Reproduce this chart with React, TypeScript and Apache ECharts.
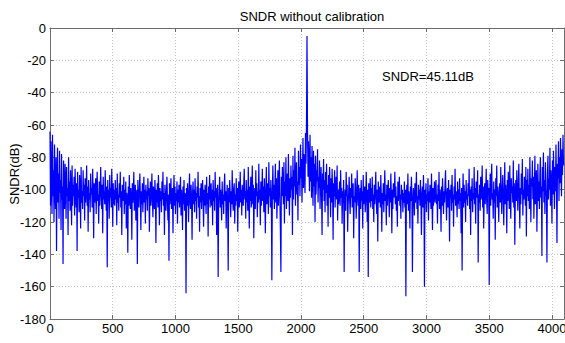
import React, { useEffect, useRef } from "react";
import * as echarts from "echarts";

const BIN_STEP = 4;
const s00 = [
  -64, -110, -70, -98, -115, -66, -104, -88, -120, -72, -100, -112, -80, -138, -95, -74,
  -108, -90, -118, -76, -102, -94, -125, -78, -106, -98, -146, -82, -100, -112, -84, -96,
  -118, -86, -104, -99, -128, -80, -107, -95, -113, -88, -101, -122, -85, -110, -97, -104,
  -92, -116, -87, -103, -111, -96, -138, -89, -105, -100, -114, -91, -99, -124, -86, -108,
];
const s01 = [
  -101, -112, -88, -104, -97, -119, -93, -108, -100, -85, -110, -98, -126, -94, -106, -102,
  -114, -90, -103, -99, -111, -87, -105, -130, -96, -108, -101, -93, -115, -99, -89, -107,
  -103, -121, -95, -110, -100, -86, -104, -112, -97, -127, -92, -106, -101, -109, -88, -103,
  -113, -98, -148, -94, -107, -100, -118, -91, -105, -99, -111, -87, -102, -123, -96, -109,
];
const s02 = [
  -100, -110, -94, -106, -99, -122, -90, -108, -103, -113, -96, -105, -89, -111, -101, -128,
  -97, -107, -104, -92, -115, -100, -109, -95, -124, -102, -106, -139, -98, -110, -91, -104,
  -112, -99, -106, -131, -96, -108, -101, -89, -113, -103, -97, -119, -105, -100, -146, -94,
  -107, -111, -99, -90, -105, -125, -101, -109, -96, -114, -103, -92, -108, -100, -121, -97,
];
const s03 = [
  -106, -101, -113, -93, -104, -99, -126, -108, -95, -110, -102, -90, -107, -117, -98, -105,
  -112, -94, -103, -133, -100, -108, -96, -111, -91, -104, -122, -99, -107, -101, -114, -95,
  -106, -89, -110, -102, -128, -97, -105, -113, -100, -92, -108, -119, -103, -144, -96, -109,
  -101, -93, -112, -106, -99, -127, -104, -91, -110, -98, -115, -102, -107, -95, -121, -100,
];
const s04 = [
  -108, -97, -111, -103, -92, -116, -100, -106, -125, -98, -109, -94, -113, -102, -104, -164,
  -99, -110, -96, -105, -120, -101, -90, -108, -112, -97, -106, -131, -103, -95, -109, -100,
  -114, -93, -107, -102, -118, -98, -105, -89, -111, -104, -126, -99, -108, -96, -112, -101,
  -94, -107, -123, -100, -110, -97, -104, -115, -92, -109, -102, -129, -98, -106, -91, -111,
];
const s05 = [
  -103, -96, -110, -100, -122, -94, -107, -101, -113, -89, -105, -99, -128, -104, -97, -154,
  -108, -102, -92, -111, -100, -106, -119, -95, -109, -103, -115, -98, -90, -107, -101, -124,
  -105, -97, -112, -150, -99, -108, -94, -104, -117, -101, -109, -88, -106, -113, -100, -96,
  -121, -103, -110, -93, -107, -99, -126, -102, -95, -111, -104, -89, -108, -100, -116, -97,
];
const s06 = [
  -104, -110, -96, -87, -106, -101, -118, -94, -108, -100, -113, -86, -103, -124, -98, -107,
  -92, -111, -102, -85, -109, -97, -130, -105, -99, -112, -88, -104, -96, -117, -101, -108,
  -84, -106, -100, -122, -95, -110, -103, -87, -107, -98, -114, -93, -105, -127, -100, -86,
  -109, -102, -96, -115, -83, -104, -99, -111, -94, -107, -156, -101, -85, -106, -97, -112,
];
const s07 = [
  -100, -84, -108, -93, -118, -103, -88, -110, -97, -82, -106, -125, -151, -92, -104, -86,
  -99, -109, -83, -121, -95, -104, -80, -112, -96, -90, -107, -78, -101, -116, -93, -105,
  -85, -100, -92, -128, -79, -106, -88, -98, -74, -110, -91, -83, -103, -95, -119, -76,
  -97, -86, -104, -72, -93, -81, -108, -90, -68, -99, -78, -87, -102, -65, -84, -58,
];
const s08 = [
  -5, -62, -92, -70, -86, -101, -66, -95, -80, -105, -73, -90, -110, -76, -98, -84,
  -120, -79, -103, -88, -95, -75, -108, -92, -99, -82, -112, -96, -86, -104, -128, -90,
  -100, -81, -107, -94, -114, -89, -102, -84, -110, -97, -123, -91, -105, -86, -99, -117,
  -93, -108, -87, -101, -131, -96, -104, -88, -111, -98, -92, -106, -85, -119, -100, -109,
];
const s09 = [
  -103, -95, -110, -88, -105, -99, -121, -101, -108, -94, -151, -106, -100, -113, -89, -104,
  -97, -126, -109, -102, -92, -107, -115, -99, -105, -90, -111, -101, -96, -130, -104, -108,
  -93, -100, -118, -106, -88, -103, -110, -97, -151, -105, -99, -112, -94, -107, -101, -124,
  -91, -109, -103, -98, -114, -106, -89, -102, -120, -100, -154, -96, -108, -104, -93, -111,
];
const s10 = [
  -99, -107, -92, -112, -103, -120, -97, -109, -101, -89, -106, -115, -100, -132, -95, -108,
  -104, -98, -111, -91, -105, -126, -102, -109, -96, -114, -100, -88, -107, -103, -122, -97,
  -110, -101, -94, -106, -117, -99, -108, -90, -104, -127, -100, -112, -96, -105, -102, -89,
  -109, -98, -113, -104, -123, -95, -107, -101, -92, -110, -103, -118, -97, -106, -100, -114,
];
const s11 = [
  -102, -108, -95, -111, -100, -166, -104, -97, -109, -90, -113, -101, -106, -124, -98, -107,
  -92, -103, -151, -110, -99, -105, -116, -96, -108, -101, -89, -112, -104, -121, -97, -106,
  -100, -110, -94, -107, -128, -102, -98, -111, -91, -105, -160, -100, -109, -96, -114, -103,
  -107, -93, -119, -101, -108, -97, -104, -112, -90, -106, -125, -99, -110, -102, -95, -108,
];
const s12 = [
  -101, -94, -109, -103, -121, -97, -107, -89, -112, -100, -105, -126, -98, -110, -93, -104,
  -115, -101, -108, -96, -88, -106, -119, -102, -99, -111, -94, -107, -132, -100, -105, -97,
  -113, -91, -108, -103, -123, -98, -106, -87, -110, -101, -104, -117, -95, -109, -100, -112,
  -93, -107, -102, -127, -99, -150, -105, -90, -111, -97, -108, -101, -120, -94, -106, -103,
];
const s13 = [
  -110, -96, -104, -87, -112, -100, -128, -98, -107, -93, -114, -102, -106, -86, -109, -99,
  -121, -95, -105, -101, -88, -145, -103, -108, -97, -113, -92, -106, -100, -85, -111, -98,
  -124, -104, -96, -109, -101, -87, -107, -115, -94, -103, -99, -159, -105, -90, -110, -97,
  -84, -106, -102, -118, -95, -108, -100, -131, -93, -104, -85, -111, -98, -106, -120, -101,
];
const s14 = [
  -96, -108, -86, -103, -115, -99, -91, -106, -122, -101, -83, -109, -97, -104, -127, -94,
  -107, -89, -100, -112, -85, -105, -118, -93, -102, -98, -108, -82, -111, -96, -134, -104,
  -94, -107, -88, -101, -113, -97, -84, -105, -124, -99, -109, -90, -103, -81, -116, -100,
  -106, -92, -98, -110, -86, -129, -94, -104, -87, -107, -97, -112, -80, -100, -120, -93,
];
const s15 = [
  -98, -82, -106, -92, -118, -101, -79, -109, -96, -88, -126, -103, -84, -107, -95, -112,
  -90, -80, -105, -98, -141, -86, -101, -77, -108, -94, -115, -83, -99, -104, -145, -91,
  -79, -106, -93, -100, -74, -110, -88, -97, -121, -82, -103, -76, -95, -112, -86, -101,
  -72, -98, -133, -84, -93, -70, -107, -80, -96, -68, -89, -104, -75, -91, -66, -85,
];
const segments = [s00, s01, s02, s03, s04, s05, s06, s07, s08, s09, s10, s11, s12, s13, s14, s15];

const yTicks = [0, -20, -40, -60, -80, -100, -120, -140, -160, -180];
const xTicks = [0, 500, 1000, 1500, 2000, 2500, 3000, 3500, 4000];
const TITLE = "SNDR without calibration";
const Y_NAME = "SNDR(dB)";
const NOTE = "SNDR=45.11dB";
const X_MAX = 4096;

const FONT = "'Liberation Sans', Arial, Helvetica, sans-serif";

export default function App() {
  const ref = useRef<HTMLDivElement>(null);
  useEffect(() => {
    document.body.style.margin = "0";
    const chart = echarts.init(ref.current!, null, { renderer: "svg" });
    const values = segments.flat();
    const data = values.map((v, i) => [i * BIN_STEP, v]);
    const gridColor = "#c4c4c4";
    const axisColor = "#6e6e6e";
    const label = { color: "#000", fontSize: 13, fontFamily: FONT };
    const fmt = (v: number) => String(v);
    chart.setOption({
      animation: false,
      backgroundColor: "#fff",
      title: {
        text: TITLE,
        left: 307,
        top: 5,
        textAlign: "center",
        textStyle: { color: "#000", fontSize: 13, fontWeight: "normal", fontFamily: FONT },
      },
      grid: {
        left: 50,
        right: 1,
        top: 28,
        bottom: 24,
        show: false,
        containLabel: false,
        outerBoundsMode: "none",
      },
      xAxis: [
        {
          type: "value",
          min: xTicks[0],
          max: X_MAX,
          interval: xTicks[1] - xTicks[0],
          position: "bottom",
          axisLine: { show: true, onZero: false, lineStyle: { color: axisColor, width: 1 } },
          axisTick: { show: true, inside: true, length: 4, lineStyle: { color: axisColor } },
          axisLabel: { ...label, margin: 3, showMaxLabel: false, formatter: fmt },
          splitLine: { show: true, lineStyle: { type: [1, 2], color: gridColor, width: 1 } },
        },
        {
          type: "value",
          min: xTicks[0],
          max: X_MAX,
          interval: xTicks[1] - xTicks[0],
          position: "top",
          axisLine: { show: true, onZero: false, lineStyle: { color: axisColor, width: 1 } },
          axisTick: { show: true, inside: true, length: 4, lineStyle: { color: axisColor } },
          axisLabel: { show: false },
          splitLine: { show: false },
        },
      ],
      yAxis: [
        {
          type: "value",
          min: yTicks[yTicks.length - 1],
          max: yTicks[0],
          interval: 20,
          position: "left",
          axisLine: { show: true, onZero: false, lineStyle: { color: axisColor, width: 1 } },
          axisTick: { show: true, inside: true, length: 4, lineStyle: { color: axisColor } },
          axisLabel: { ...label, margin: 4, formatter: fmt },
          splitLine: { show: true, lineStyle: { type: [1, 2], color: gridColor, width: 1 } },
        },
        {
          type: "value",
          min: yTicks[yTicks.length - 1],
          max: yTicks[0],
          interval: 20,
          position: "right",
          axisLine: { show: true, onZero: false, lineStyle: { color: axisColor, width: 1 } },
          axisTick: { show: true, inside: true, length: 4, lineStyle: { color: axisColor } },
          axisLabel: { show: false },
          splitLine: { show: false },
        },
      ],
      graphic: [
        {
          type: "text",
          left: 382,
          top: 70,
          style: { text: NOTE, fill: "#000", fontSize: 13, fontFamily: FONT },
        },
        {
          type: "text",
          x: 14,
          y: 174,
          rotation: Math.PI / 2,
          style: {
            text: Y_NAME,
            fill: "#000",
            fontSize: 13,
            fontFamily: FONT,
            align: "center",
            verticalAlign: "middle",
          },
        },
      ],
      series: [
        {
          type: "line",
          data,
          xAxisIndex: 0,
          yAxisIndex: 0,
          symbol: "none",
          silent: true,
          lineStyle: { color: "#0000ff", width: 1.2 },
        },
      ],
    });
    return () => chart.dispose();
  }, []);
  return <div ref={ref} style={{ width: 565, height: 343 }} />;
}
